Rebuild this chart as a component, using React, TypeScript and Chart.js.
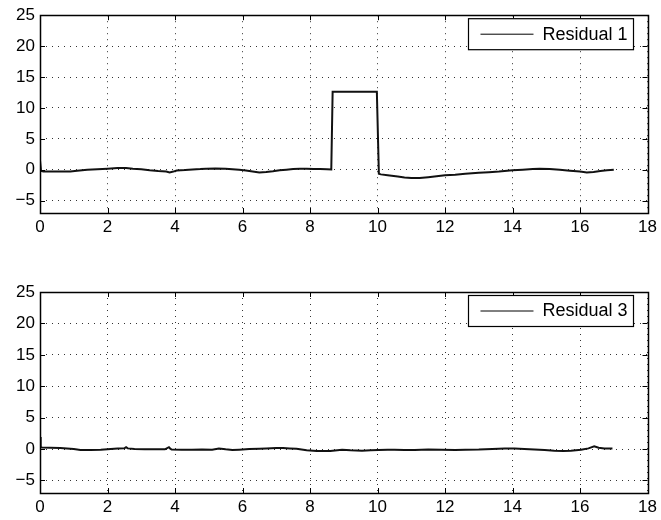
import React, { useEffect, useRef } from "react";
import { Chart, registerables } from "chart.js";
Chart.register(...registerables);

const xTicks = [0, 2, 4, 6, 8, 10, 12, 14, 16, 18];
const yTicks = [-5, 0, 5, 10, 15, 20, 25];
const xMin = 0, xMax = 18, yMin = -7, yMax = 25;

const r1Label = "Residual 1";
const r1X = [0, 0.03, 0.1, 0.3, 0.6, 0.9, 1.1, 1.4, 1.7, 2.0, 2.3, 2.55, 2.75, 3.0, 3.25, 3.5, 3.74, 3.84, 3.95, 4.05, 4.3, 4.52, 4.75, 4.92, 5.2, 5.5, 5.7, 5.9, 6.1, 6.3, 6.5, 6.7, 6.9, 7.1, 7.3, 7.5, 7.7, 7.9, 8.1, 8.3, 8.5, 8.63, 8.67, 9.0, 9.5, 9.98, 10.04, 10.1, 10.3, 10.6, 10.8, 11.0, 11.25, 11.5, 11.75, 12.0, 12.3, 12.6, 13.0, 13.3, 13.6, 14.0, 14.3, 14.6, 14.8, 15.1, 15.4, 15.7, 16.0, 16.2, 16.4, 16.6, 16.8, 17.0];
const r1Y = [1.5, -0.2, -0.27, -0.3, -0.28, -0.27, -0.15, 0.0, 0.08, 0.16, 0.26, 0.27, 0.16, 0.08, -0.1, -0.22, -0.3, -0.43, -0.3, -0.12, -0.05, 0.05, 0.1, 0.16, 0.18, 0.16, 0.08, 0.0, -0.12, -0.27, -0.43, -0.37, -0.25, -0.1, 0.0, 0.1, 0.14, 0.16, 0.12, 0.1, 0.08, 0.05, 12.6, 12.6, 12.6, 12.6, -0.65, -0.75, -0.9, -1.1, -1.25, -1.35, -1.35, -1.2, -1.05, -0.9, -0.8, -0.65, -0.5, -0.4, -0.3, -0.1, 0.0, 0.1, 0.15, 0.12, 0.0, -0.15, -0.3, -0.45, -0.35, -0.2, -0.1, 0.0];

const r3Label = "Residual 3";
const r3X = [0, 0.02, 0.06, 0.3, 0.6, 0.8, 1.0, 1.2, 1.5, 1.8, 2.1, 2.3, 2.5, 2.55, 2.6, 2.8, 3.1, 3.4, 3.7, 3.82, 3.86, 3.9, 4.2, 4.5, 4.8, 5.1, 5.3, 5.5, 5.7, 5.9, 6.2, 6.5, 6.7, 7.0, 7.2, 7.4, 7.6, 7.9, 8.2, 8.6, 8.95, 9.2, 9.54, 9.8, 10.03, 10.3, 10.5, 10.8, 11.1, 11.5, 11.9, 12.3, 12.6, 13.0, 13.4, 13.77, 14.06, 14.35, 14.65, 14.95, 15.24, 15.5, 15.73, 16.03, 16.25, 16.42, 16.55, 16.72, 16.96];
const r3Y = [1.9, 0.3, 0.25, 0.22, 0.18, 0.1, 0.0, -0.15, -0.16, -0.12, 0.0, 0.1, 0.12, 0.3, 0.1, 0.0, -0.05, -0.05, -0.05, 0.3, 0.05, -0.08, -0.1, -0.12, -0.08, -0.1, 0.1, -0.05, -0.16, -0.1, 0.0, 0.05, 0.1, 0.16, 0.15, 0.1, 0.05, -0.2, -0.3, -0.32, -0.1, -0.2, -0.27, -0.2, -0.16, -0.12, -0.1, -0.15, -0.16, -0.08, -0.12, -0.16, -0.1, -0.08, 0.0, 0.1, 0.08, 0.02, -0.08, -0.15, -0.27, -0.3, -0.27, -0.1, 0.1, 0.45, 0.2, 0.1, 0.08];

const FONT = "'Liberation Sans', Arial, Helvetica, sans-serif";

const framePlugin = {
  id: "matlabFrame",
  afterDraw(chart: any) {
    const { ctx, chartArea: a, scales } = chart;
    ctx.save();
    ctx.strokeStyle = "#000";
    ctx.lineWidth = 1;
    const L = 5;
    ctx.beginPath();
    xTicks.forEach((v) => {
      const px = Math.round(scales.x.getPixelForValue(v)) + 0.5;
      ctx.moveTo(px, a.top);
      ctx.lineTo(px, a.top + L);
      ctx.moveTo(px, a.bottom);
      ctx.lineTo(px, a.bottom - L);
    });
    yTicks.forEach((v) => {
      const py = Math.round(scales.y.getPixelForValue(v)) + 0.5;
      ctx.moveTo(a.left, py);
      ctx.lineTo(a.left + L, py);
      ctx.moveTo(a.right, py);
      ctx.lineTo(a.right - L, py);
    });
    ctx.stroke();
    ctx.lineWidth = 1.5;
    ctx.strokeRect(Math.round(a.left) + 0.5, Math.round(a.top) + 0.5, Math.round(a.right - a.left), Math.round(a.bottom - a.top));

    // legend box
    const label = chart.data.datasets[0].label;
    ctx.font = `18px ${FONT}`;
    const tw = ctx.measureText(label).width;
    const right = a.right - 14;
    const top = a.top + 3;
    const h = 31;
    const w = 12 + 53 + 9 + tw + 6;
    const left = right - w;
    ctx.fillStyle = "#fff";
    ctx.fillRect(left, top, w, h);
    ctx.lineWidth = 1.2;
    ctx.strokeStyle = "#000";
    ctx.strokeRect(Math.round(left) + 0.5, top + 0.5, Math.round(w), h);
    ctx.lineWidth = 1;
    ctx.beginPath();
    const ly = top + h / 2 + 0.5;
    ctx.moveTo(left + 12, ly);
    ctx.lineTo(left + 65, ly);
    ctx.stroke();
    ctx.fillStyle = "#000";
    ctx.textBaseline = "middle";
    ctx.textAlign = "left";
    ctx.fillText(label, left + 74, top + h / 2 + 1);
    ctx.restore();
  },
};

function Panel({ xs, ys, label, padTop, xHeight, height }: { xs: number[]; ys: number[]; label: string; padTop: number; xHeight: number; height: number }) {
  const ref = useRef<HTMLCanvasElement | null>(null);
  useEffect(() => {
    if (!ref.current) return;
    const chart = new Chart(ref.current, {
      type: "line",
      data: {
        datasets: [
          {
            label,
            data: xs.map((x, i) => ({ x, y: ys[i] })),
            borderColor: "#111",
            borderWidth: 2,
            pointRadius: 0,
            tension: 0,
            fill: false,
          },
        ],
      },
      options: {
        animation: false,
        responsive: false,
        devicePixelRatio: 1,
        parsing: false as any,
        layout: { padding: { top: padTop, right: 11, left: 0, bottom: 0 } },
        plugins: { legend: { display: false }, tooltip: { enabled: false } },
        scales: {
          x: {
            type: "linear",
            min: xMin,
            max: xMax,
            afterBuildTicks: (s: any) => {
              s.ticks = xTicks.map((v) => ({ value: v }));
            },
            afterFit: (s: any) => {
              s.height = xHeight;
            },
            ticks: { color: "#000", font: { family: FONT, size: 17 }, padding: 4, maxRotation: 0, autoSkip: false },
            grid: { color: "#333", lineWidth: 1, drawTicks: false },
            border: { display: false, dash: [1, 5] },
          },
          y: {
            type: "linear",
            min: yMin,
            max: yMax,
            afterBuildTicks: (s: any) => {
              s.ticks = yTicks.map((v) => ({ value: v }));
            },
            afterFit: (s: any) => {
              s.width = 40;
            },
            ticks: { color: "#000", font: { family: FONT, size: 17 }, padding: 5, callback: (v: any) => (Number(v) < 0 ? "\u2212" + Math.abs(Number(v)) : String(v)) },
            grid: { color: "#333", lineWidth: 1, drawTicks: false },
            border: { display: false, dash: [1, 5] },
          },
        },
      },
      plugins: [framePlugin],
    });
    return () => chart.destroy();
  }, []);
  return <canvas ref={ref} width={661} height={height} style={{ display: "block", width: 661, height }} />;
}

export default function App() {
  return (
    <div style={{ position: "absolute", left: 0, top: 0, width: 661, height: 520, background: "#fff" }}>
      <Panel xs={r1X} ys={r1Y} label={r1Label} padTop={13} xHeight={47} height={260} />
      <Panel xs={r3X} ys={r3Y} label={r3Label} padTop={32} xHeight={27} height={260} />
    </div>
  );
}
